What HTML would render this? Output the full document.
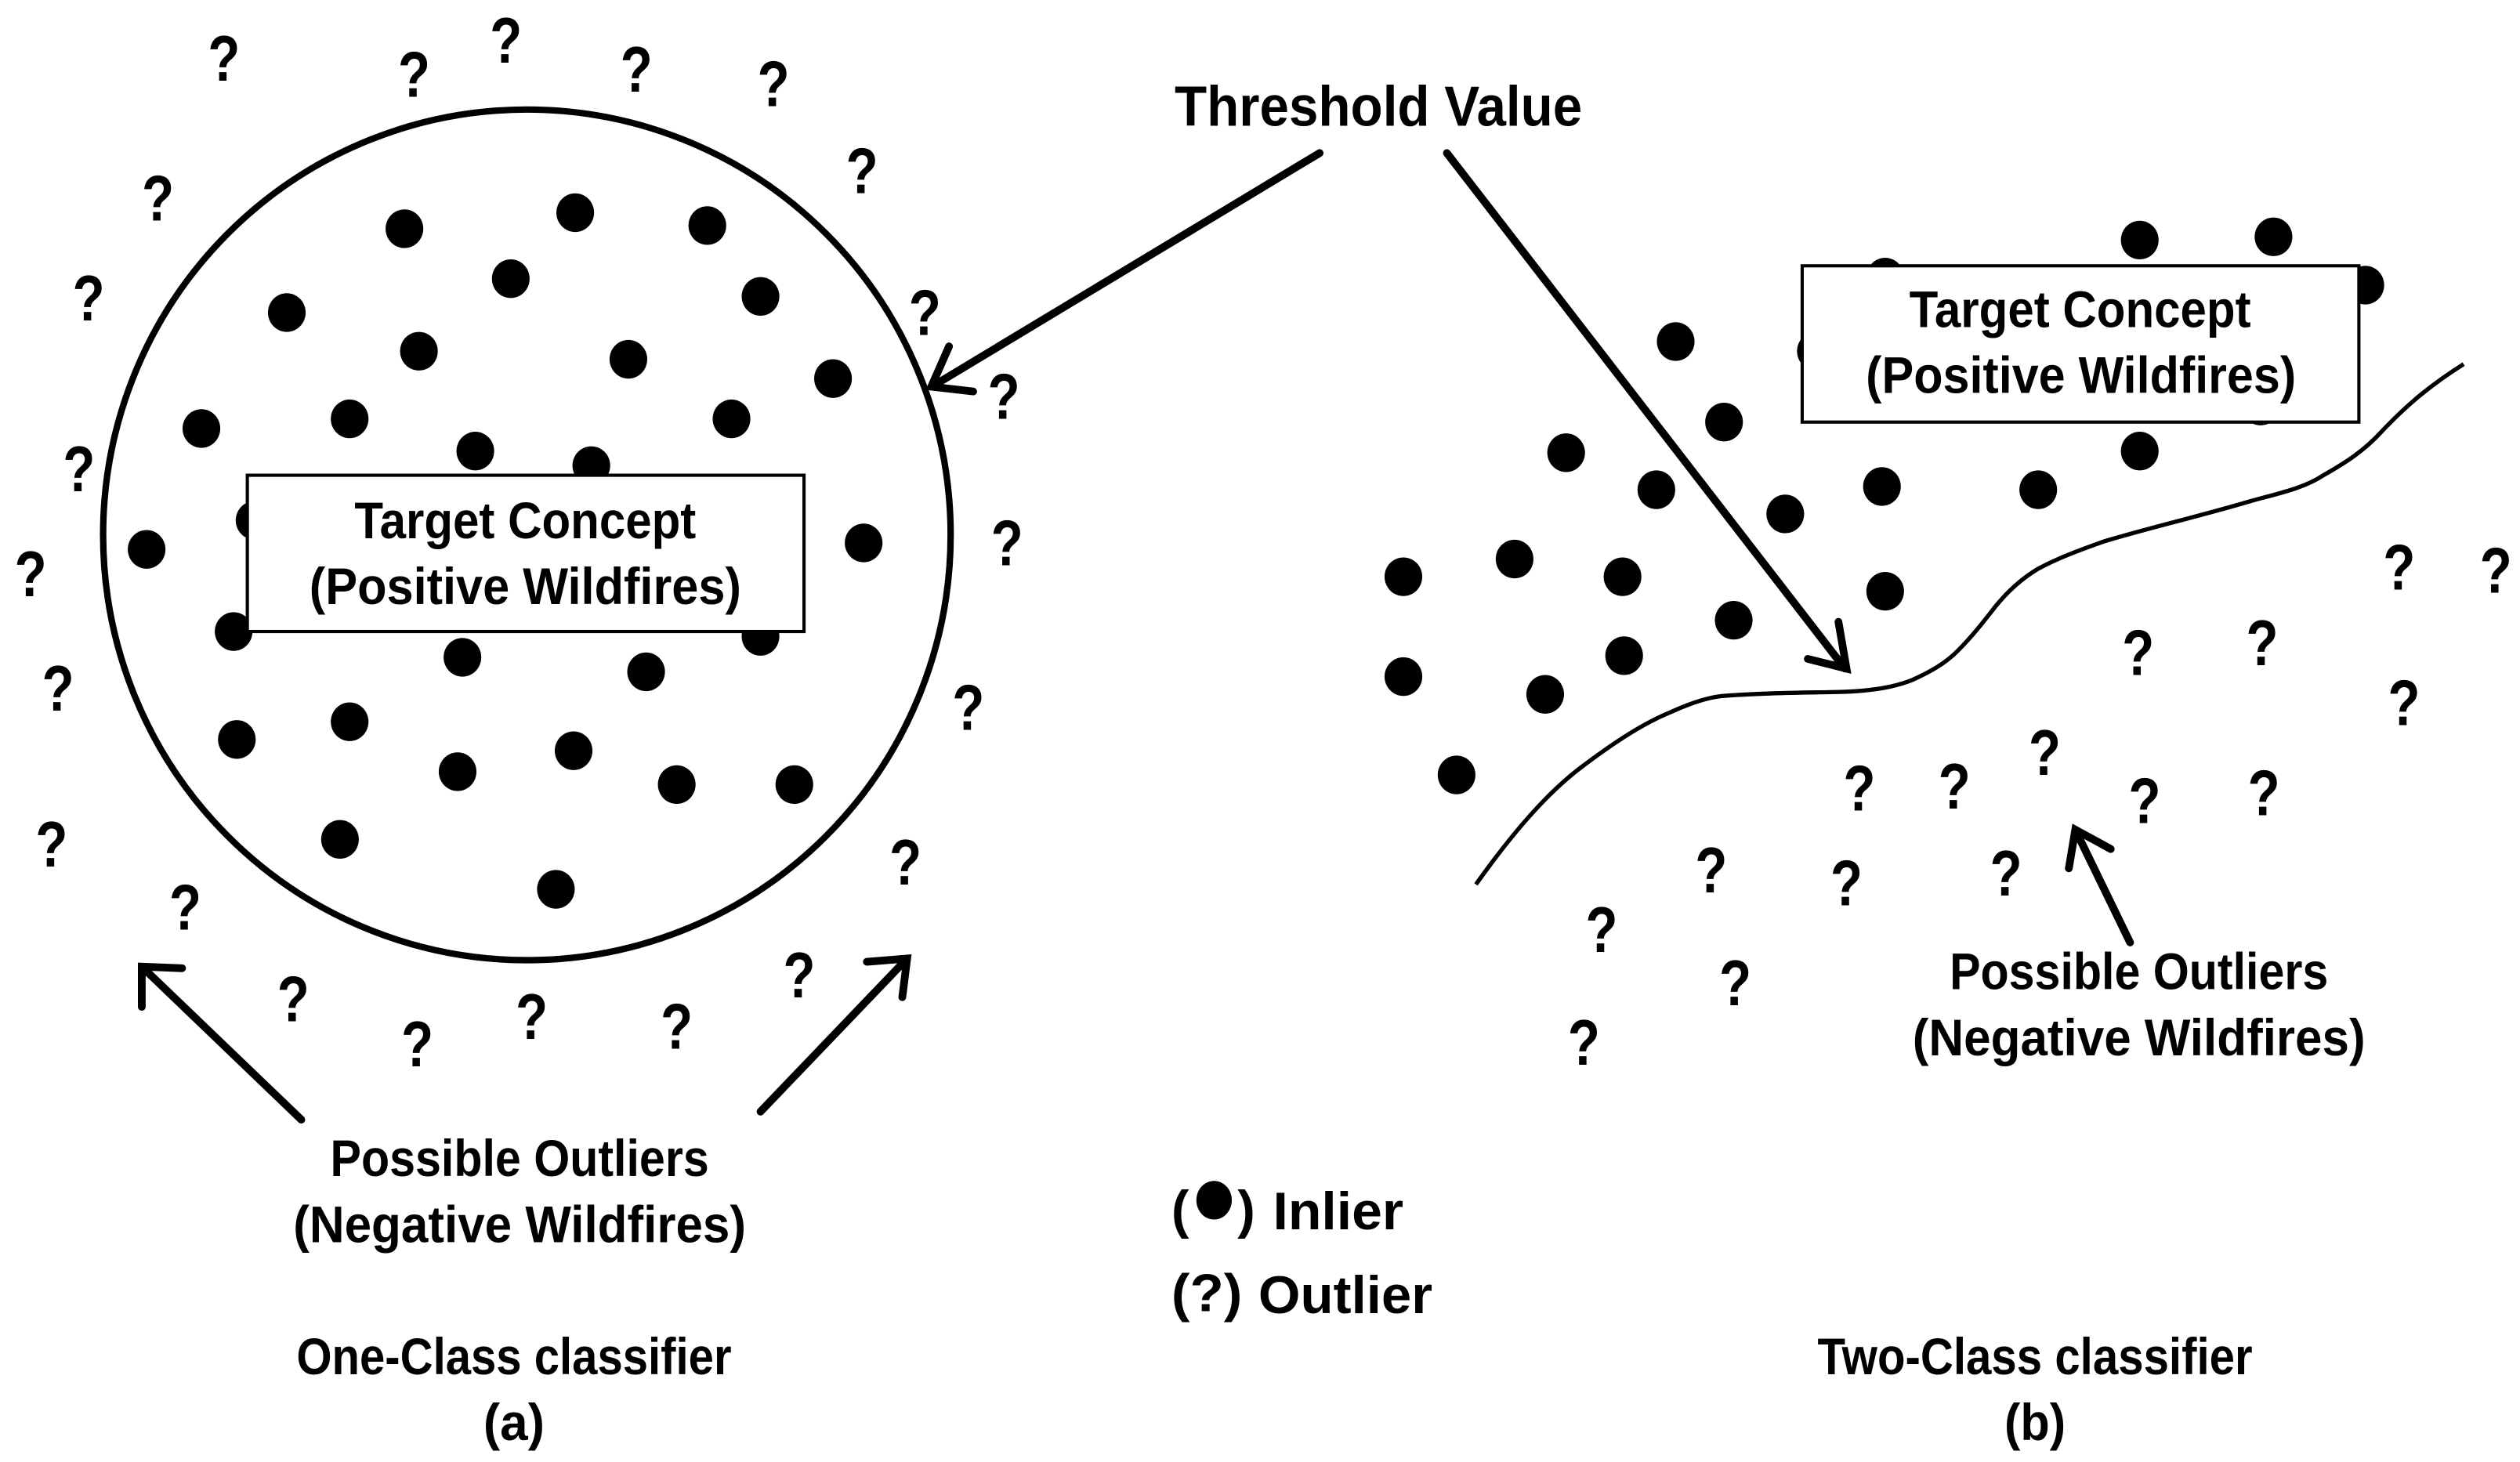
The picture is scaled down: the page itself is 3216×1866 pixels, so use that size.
<!DOCTYPE html>
<html><head><meta charset="utf-8"><style>
html,body{margin:0;padding:0;background:#fff}
svg{display:block}
text{font-family:"Liberation Sans",sans-serif;font-weight:bold;fill:#000}
.q{font-size:40px;text-anchor:middle}
.t{font-size:32px}
.l{font-size:33px}
.a{fill:none;stroke:#000;stroke-width:4.8;stroke-linecap:round;stroke-linejoin:miter}
</style></head><body>
<svg width="3216" height="1866" viewBox="0 0 1564 907.5" preserveAspectRatio="none" xmlns="http://www.w3.org/2000/svg">
<rect width="1564" height="908" fill="#fff"/>
<ellipse cx="327" cy="332" rx="263" ry="264" fill="none" stroke="#000" stroke-width="4"/>
<g fill="#000">
<ellipse cx="251" cy="142" rx="11.7" ry="12"/><ellipse cx="357" cy="132" rx="11.7" ry="12"/><ellipse cx="439" cy="140" rx="11.7" ry="12"/><ellipse cx="317" cy="173" rx="11.7" ry="12"/><ellipse cx="472" cy="184" rx="11.7" ry="12"/><ellipse cx="178" cy="194" rx="11.7" ry="12"/><ellipse cx="260" cy="218" rx="11.7" ry="12"/><ellipse cx="390" cy="223" rx="11.7" ry="12"/><ellipse cx="517" cy="235" rx="11.7" ry="12"/><ellipse cx="125" cy="266" rx="11.7" ry="12"/><ellipse cx="217" cy="260" rx="11.7" ry="12"/><ellipse cx="454" cy="260" rx="11.7" ry="12"/><ellipse cx="295" cy="280" rx="11.7" ry="12"/><ellipse cx="367" cy="289" rx="11.7" ry="12"/><ellipse cx="91" cy="341" rx="11.7" ry="12"/><ellipse cx="158" cy="323" rx="11.7" ry="12"/><ellipse cx="536" cy="337" rx="11.7" ry="12"/><ellipse cx="145" cy="392" rx="11.7" ry="12"/><ellipse cx="472" cy="395" rx="11.7" ry="12"/><ellipse cx="287" cy="408" rx="11.7" ry="12"/><ellipse cx="401" cy="417" rx="11.7" ry="12"/><ellipse cx="147" cy="459" rx="11.7" ry="12"/><ellipse cx="217" cy="448" rx="11.7" ry="12"/><ellipse cx="284" cy="479" rx="11.7" ry="12"/><ellipse cx="356" cy="466" rx="11.7" ry="12"/><ellipse cx="420" cy="487" rx="11.7" ry="12"/><ellipse cx="493" cy="487" rx="11.7" ry="12"/><ellipse cx="211" cy="521" rx="11.7" ry="12"/><ellipse cx="345" cy="552" rx="11.7" ry="12"/>
<ellipse cx="1328" cy="149" rx="11.7" ry="12"/><ellipse cx="1411" cy="147" rx="11.7" ry="12"/><ellipse cx="1468" cy="177" rx="11.7" ry="12"/><ellipse cx="1170" cy="172" rx="11.7" ry="12"/><ellipse cx="1040" cy="212" rx="11.7" ry="12"/><ellipse cx="1127" cy="218" rx="11.7" ry="12"/><ellipse cx="1070" cy="262" rx="11.7" ry="12"/><ellipse cx="1403" cy="252" rx="11.7" ry="12"/><ellipse cx="972" cy="281" rx="11.7" ry="12"/><ellipse cx="1028" cy="304" rx="11.7" ry="12"/><ellipse cx="1108" cy="319" rx="11.7" ry="12"/><ellipse cx="1168" cy="302" rx="11.7" ry="12"/><ellipse cx="1265" cy="304" rx="11.7" ry="12"/><ellipse cx="1328" cy="280" rx="11.7" ry="12"/><ellipse cx="871" cy="358" rx="11.7" ry="12"/><ellipse cx="940" cy="347" rx="11.7" ry="12"/><ellipse cx="1007" cy="358" rx="11.7" ry="12"/><ellipse cx="1170" cy="367" rx="11.7" ry="12"/><ellipse cx="1076" cy="385" rx="11.7" ry="12"/><ellipse cx="871" cy="420" rx="11.7" ry="12"/><ellipse cx="959" cy="431" rx="11.7" ry="12"/><ellipse cx="1008" cy="407" rx="11.7" ry="12"/><ellipse cx="904" cy="481" rx="11.7" ry="12"/>
</g>
<rect x="153.5" y="295" width="345.5" height="97" fill="#fff" stroke="#000" stroke-width="2"/>
<rect x="1118.5" y="165" width="345.5" height="97" fill="#fff" stroke="#000" stroke-width="2"/>
<path d="M916,549 C938,518 960,492 983,475 C1003,460 1020,449 1037,442 C1050,436 1060,433 1069,432 C1095,430 1120,430 1142,429.5 C1160,429 1175,427 1187,422 C1198,417 1207,412 1215,404 C1224,395 1231,386 1238,377 C1246,367 1255,359 1265,353 C1278,346 1292,341 1306,336 C1336,327 1367,320 1397,311 C1415,306 1430,303 1442,295 C1456,287 1467,280 1478,268 C1495,250 1510,238 1529,226" fill="none" stroke="#000" stroke-width="2.6"/>
<path class="a" d="M819,95 L580,239 M589,215 L578,240 L604,243"/>
<path class="a" d="M898,95 L1145,415 M1141,386 L1146,415 L1122,409"/>
<path class="a" d="M187,695 L88,600 M88,625 L88,600 L113,601"/>
<path class="a" d="M472,690 L563,595 M538,597 L563,595 L560,619"/>
<path class="a" d="M1322,585 L1288,515 M1284,539 L1288,515 L1310,527"/>
<g>
<text class="q" textLength="20" lengthAdjust="spacingAndGlyphs" x="139" y="50">?</text><text class="q" textLength="20" lengthAdjust="spacingAndGlyphs" x="257" y="60">?</text><text class="q" textLength="20" lengthAdjust="spacingAndGlyphs" x="314" y="39">?</text><text class="q" textLength="20" lengthAdjust="spacingAndGlyphs" x="395" y="57">?</text><text class="q" textLength="20" lengthAdjust="spacingAndGlyphs" x="480" y="66">?</text><text class="q" textLength="20" lengthAdjust="spacingAndGlyphs" x="535" y="120">?</text><text class="q" textLength="20" lengthAdjust="spacingAndGlyphs" x="98" y="137">?</text><text class="q" textLength="20" lengthAdjust="spacingAndGlyphs" x="55" y="199">?</text><text class="q" textLength="20" lengthAdjust="spacingAndGlyphs" x="574" y="208">?</text><text class="q" textLength="20" lengthAdjust="spacingAndGlyphs" x="623" y="260">?</text><text class="q" textLength="20" lengthAdjust="spacingAndGlyphs" x="49" y="305">?</text><text class="q" textLength="20" lengthAdjust="spacingAndGlyphs" x="625" y="351">?</text><text class="q" textLength="20" lengthAdjust="spacingAndGlyphs" x="19" y="370">?</text><text class="q" textLength="20" lengthAdjust="spacingAndGlyphs" x="36" y="441">?</text><text class="q" textLength="20" lengthAdjust="spacingAndGlyphs" x="601" y="453">?</text><text class="q" textLength="20" lengthAdjust="spacingAndGlyphs" x="32" y="538">?</text><text class="q" textLength="20" lengthAdjust="spacingAndGlyphs" x="562" y="549">?</text><text class="q" textLength="20" lengthAdjust="spacingAndGlyphs" x="115" y="577">?</text><text class="q" textLength="20" lengthAdjust="spacingAndGlyphs" x="496" y="619">?</text><text class="q" textLength="20" lengthAdjust="spacingAndGlyphs" x="182" y="634">?</text><text class="q" textLength="20" lengthAdjust="spacingAndGlyphs" x="330" y="645">?</text><text class="q" textLength="20" lengthAdjust="spacingAndGlyphs" x="420" y="651">?</text><text class="q" textLength="20" lengthAdjust="spacingAndGlyphs" x="259" y="662">?</text>
<text class="q" textLength="20" lengthAdjust="spacingAndGlyphs" x="1489" y="366">?</text><text class="q" textLength="20" lengthAdjust="spacingAndGlyphs" x="1549" y="368">?</text><text class="q" textLength="20" lengthAdjust="spacingAndGlyphs" x="1327" y="419">?</text><text class="q" textLength="20" lengthAdjust="spacingAndGlyphs" x="1404" y="413">?</text><text class="q" textLength="20" lengthAdjust="spacingAndGlyphs" x="1492" y="450">?</text><text class="q" textLength="20" lengthAdjust="spacingAndGlyphs" x="1269" y="481">?</text><text class="q" textLength="20" lengthAdjust="spacingAndGlyphs" x="1154" y="503">?</text><text class="q" textLength="20" lengthAdjust="spacingAndGlyphs" x="1213" y="502">?</text><text class="q" textLength="20" lengthAdjust="spacingAndGlyphs" x="1331" y="511">?</text><text class="q" textLength="20" lengthAdjust="spacingAndGlyphs" x="1405" y="506">?</text><text class="q" textLength="20" lengthAdjust="spacingAndGlyphs" x="1062" y="554">?</text><text class="q" textLength="20" lengthAdjust="spacingAndGlyphs" x="1146" y="562">?</text><text class="q" textLength="20" lengthAdjust="spacingAndGlyphs" x="1245" y="556">?</text><text class="q" textLength="20" lengthAdjust="spacingAndGlyphs" x="994" y="591">?</text><text class="q" textLength="20" lengthAdjust="spacingAndGlyphs" x="1077" y="624">?</text><text class="q" textLength="20" lengthAdjust="spacingAndGlyphs" x="983" y="661">?</text>
</g>
<text class="l" style="font-size:35px" x="729" y="78" textLength="253" lengthAdjust="spacingAndGlyphs">Threshold Value</text>
<text class="t" x="220" y="334" textLength="212" lengthAdjust="spacingAndGlyphs">Target Concept</text>
<text class="t" x="192" y="375" textLength="268" lengthAdjust="spacingAndGlyphs">(Positive Wildfires)</text>
<text class="t" x="1185" y="203" textLength="212" lengthAdjust="spacingAndGlyphs">Target Concept</text>
<text class="t" x="1158" y="244" textLength="267" lengthAdjust="spacingAndGlyphs">(Positive Wildfires)</text>
<text class="t" x="205" y="730" textLength="235" lengthAdjust="spacingAndGlyphs">Possible Outliers</text>
<text class="t" x="182" y="771" textLength="281" lengthAdjust="spacingAndGlyphs">(Negative Wildfires)</text>
<text class="t" x="1210" y="614" textLength="235" lengthAdjust="spacingAndGlyphs">Possible Outliers</text>
<text class="t" x="1187" y="655" textLength="281" lengthAdjust="spacingAndGlyphs">(Negative Wildfires)</text>
<text class="t" x="184" y="853" textLength="270" lengthAdjust="spacingAndGlyphs">One-Class classifier</text>
<text class="t" x="300" y="894" textLength="38" lengthAdjust="spacingAndGlyphs">(a)</text>
<text class="t" x="1128" y="853" textLength="270" lengthAdjust="spacingAndGlyphs">Two-Class classifier</text>
<text class="t" x="1244" y="894" textLength="38" lengthAdjust="spacingAndGlyphs">(b)</text>
<text class="l" x="727" y="762">(</text>
<ellipse cx="753.5" cy="745" rx="11" ry="12" fill="#000"/>
<text class="l" x="768" y="762">)</text>
<text class="l" x="790" y="763" textLength="81" lengthAdjust="spacingAndGlyphs">Inlier</text>
<text class="l" x="727" y="814" textLength="44" lengthAdjust="spacingAndGlyphs">(?)</text>
<text class="l" x="781" y="815" textLength="108" lengthAdjust="spacingAndGlyphs">Outlier</text>
</svg>
</body></html>
